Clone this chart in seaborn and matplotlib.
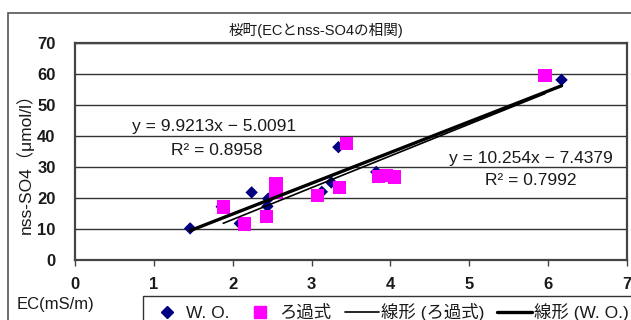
import numpy as np
import pandas as pd
import matplotlib
matplotlib.use("Agg")
import matplotlib.pyplot as plt
from matplotlib.patches import Rectangle
from matplotlib.lines import Line2D
import seaborn as sns

# EC (mS/m) and nss-SO4 (umol/l) for each sampler
wo_ec = [1.46, 1.86, 2.09, 2.24, 2.44, 2.45, 3.13, 3.25, 3.34, 3.82, 6.17]
wo_so4 = [10.2, 17.2, 11.8, 21.8, 17.3, 19.8, 22.0, 25.0, 36.4, 28.4, 58.1]
filt_ec = [1.88, 2.15, 2.43, 2.55, 2.55, 3.08, 3.35, 3.44, 3.85, 3.95, 4.05, 5.96]
filt_so4 = [17.1, 11.6, 14.1, 21.9, 24.6, 20.9, 23.3, 37.7, 27.0, 27.2, 26.8, 59.4]

# linear trend coefficients (slope, intercept, R^2)
wo_fit = (9.9213, -5.0091, 0.8958)
filt_fit = (10.254, -7.4379, 0.7992)

x_ticks = [0, 1, 2, 3, 4, 5, 6, 7]
y_ticks = [0, 10, 20, 30, 40, 50, 60, 70]

title = "桜町(ECとnss-SO4の相関)"
xlabel = "EC(mS/m)"
ylabel = "nss-SO4（μmol/l）"
series_names = ["W. O.", "ろ過式", "線形 (ろ過式)", "線形 (W. O.)"]

sns.set_style("white")
FAMILY = ["Liberation Sans", "Noto Sans CJK JP", "DejaVu Sans"]
plt.rcParams["font.family"] = FAMILY
plt.rcParams["axes.unicode_minus"] = True

W, H = 631, 320
fig = plt.figure(figsize=(W / 100, H / 100), dpi=100)
ax = fig.add_axes([75 / W, 1 - 260 / H, (627 - 75) / W, (260 - 43) / H])

wo_df = pd.DataFrame({"EC": wo_ec, "SO4": wo_so4})
filt_df = pd.DataFrame({"EC": filt_ec, "SO4": filt_so4})

navy = "#000080"
magenta = "#FF00FF"
ink = "#1a1a1a"

sns.scatterplot(data=wo_df, x="EC", y="SO4", marker="D", s=40, color=navy,
                edgecolor="none", ax=ax, zorder=3)
sns.scatterplot(data=filt_df, x="EC", y="SO4", marker="s", s=90, color=magenta,
                edgecolor="none", ax=ax, zorder=4)

def trend(xs, fit):
    xr = np.array([min(xs), max(xs)])
    return pd.DataFrame({"EC": xr, "SO4": fit[0] * xr + fit[1]})

sns.lineplot(data=trend(filt_ec, filt_fit), x="EC", y="SO4", color="black",
             lw=1.2, ax=ax, zorder=5)
sns.lineplot(data=trend(wo_ec, wo_fit), x="EC", y="SO4", color="black",
             lw=2.4, ax=ax, zorder=6)

ax.set_xlim(0, 7)
ax.set_ylim(0, 70)
ax.set_xticks(x_ticks)
ax.set_yticks(y_ticks)
ax.set_xticklabels([str(v) for v in x_ticks], fontweight="bold")
ax.set_yticklabels([str(v) for v in y_ticks], fontweight="bold")
ax.set_xlabel("")
ax.set_ylabel("")
ax.grid(axis="y", color="#333333", lw=1.0)
ax.set_axisbelow(True)
for sp in ax.spines.values():
    sp.set_color("#444444")
    sp.set_linewidth(1.6)
ax.tick_params(axis="x", length=4, width=1, color="#444444", direction="out",
               pad=8, labelsize=12)
ax.tick_params(axis="y", length=0, pad=14, labelsize=12)
ax.tick_params(axis="both", labelcolor=ink)
ax.xaxis.set_tick_params(bottom=True)

def eq_text(fit):
    sign = "−" if fit[1] < 0 else "+"
    return f"y = {fit[0]:g}x {sign} {abs(fit[1]):.4f}"

eq_kw = dict(ha="center", va="center", fontsize=12.5, color=ink)
ax.text(1.763, 43.0, eq_text(wo_fit), **eq_kw)
ax.text(1.80, 35.2, f"R² = {wo_fit[2]:.4f}", **eq_kw)
ax.text(5.78, 32.9, eq_text(filt_fit), **eq_kw)
ax.text(5.78, 25.5, f"R² = {filt_fit[2]:.4f}", **eq_kw)

fig.text(316 / W, 1 - 31 / H, title, ha="center", va="center", fontsize=10.5,
         color=ink)
fig.text(25 / W, 1 - 159 / H, ylabel, ha="center", va="center", rotation=90,
         fontsize=12.5, color=ink)
fig.text(55 / W, 1 - 305 / H, xlabel, ha="center", va="center", fontsize=12,
         color=ink)

# outer chart frame
fig.patches.append(Rectangle((8 / W, -0.2), 1.2, 1.2 - 13 / H, transform=fig.transFigure,
                             fill=False, edgecolor="#555555", lw=1.2))

handles = [
    Line2D([], [], ls="none", marker="D", ms=6, color=navy),
    Line2D([], [], ls="none", marker="s", ms=8, color=magenta),
    Line2D([], [], color="black", lw=1.2),
    Line2D([], [], color="black", lw=2.4),
]
leg = fig.legend(handles, series_names, loc="upper left",
                 bbox_to_anchor=(143 / W, 1 - 296 / H), ncol=4, frameon=True,
                 fancybox=False, edgecolor="black",
                 prop={"family": FAMILY, "size": 12.5},
                 handlelength=2.0, handletextpad=0.1, columnspacing=0.75,
                 borderpad=0.4, borderaxespad=0)
leg.get_frame().set_linewidth(1.0)
for t in leg.get_texts():
    t.set_color(ink)

fig.savefig("out.png", dpi=100)
